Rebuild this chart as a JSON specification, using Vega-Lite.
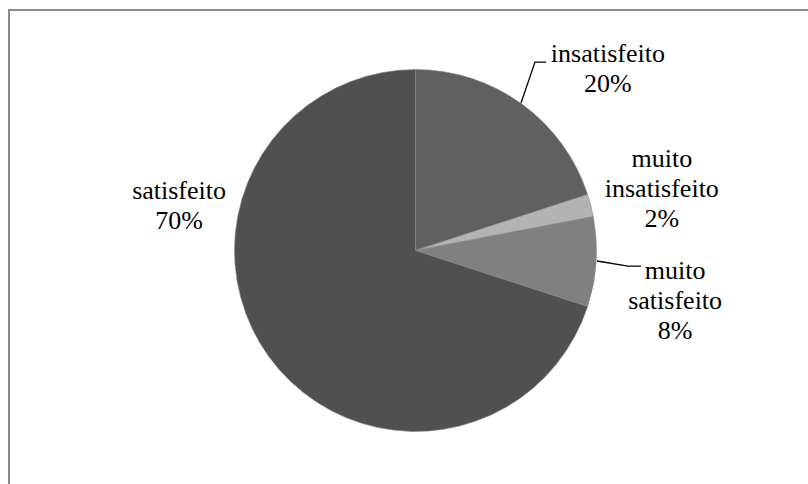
{
  "$schema": "https://vega.github.io/schema/vega-lite/v6.json",
  "width": 813,
  "height": 481,
  "autosize": {"type": "none"},
  "padding": {"left": 9, "top": 10, "right": 0, "bottom": 0},
  "background": "white",
  "config": {
    "view": {"stroke": "#8c8c8c", "strokeWidth": 2},
    "font": "Liberation Serif"
  },
  "datasets": {
    "fatias": [
      {"categoria": "insatisfeito", "valor": 20, "rotulo": "insatisfeito\n20%"},
      {"categoria": "muito insatisfeito", "valor": 2, "rotulo": "muito\ninsatisfeito\n2%"},
      {"categoria": "muito satisfeito", "valor": 8, "rotulo": "muito\nsatisfeito\n8%"},
      {"categoria": "satisfeito", "valor": 70, "rotulo": "satisfeito\n70%"}
    ],
    "lideres": [
      {"grupo": "insatisfeito", "ordem": 1, "px": 0.583, "py": 0.815},
      {"grupo": "insatisfeito", "ordem": 2, "px": 0.660, "py": 1.041},
      {"grupo": "insatisfeito", "ordem": 3, "px": 0.721, "py": 1.041},
      {"grupo": "muito satisfeito", "ordem": 1, "px": 1.003, "py": -0.058},
      {"grupo": "muito satisfeito", "ordem": 2, "px": 1.174, "py": -0.086},
      {"grupo": "muito satisfeito", "ordem": 3, "px": 1.246, "py": -0.086}
    ]
  },
  "layer": [
    {
      "data": {"name": "fatias"},
      "mark": {"type": "arc", "outerRadius": 181, "stroke": "#8a8a8a", "strokeWidth": 0.6},
      "encoding": {
        "theta": {"field": "valor", "type": "quantitative", "stack": true, "scale": {"domain": [0, 100]}},
        "order": {"field": "categoria", "type": "ordinal"},
        "color": {
          "field": "categoria", "type": "nominal", "legend": null,
          "scale": {
            "domain": ["insatisfeito", "muito insatisfeito", "muito satisfeito", "satisfeito"],
            "range": ["#606060", "#b3b3b3", "#808080", "#505050"]
          }
        }
      }
    },
    {
      "data": {"name": "lideres"},
      "mark": {"type": "line", "color": "black", "strokeWidth": 1.3},
      "encoding": {
        "x": {"field": "px", "type": "quantitative", "axis": null, "scale": {"domain": [-2.2459, 2.2459], "nice": false, "zero": false}},
        "y": {"field": "py", "type": "quantitative", "axis": null, "scale": {"domain": [-1.3287, 1.3287], "nice": false, "zero": false}},
        "detail": {"field": "grupo", "type": "nominal"},
        "order": {"field": "ordem", "type": "quantitative"}
      }
    },
    {
      "data": {"name": "fatias"},
      "mark": {"type": "text", "radius": 181, "dx": 86, "dy": -42, "font": "Liberation Serif", "fontSize": 26, "lineHeight": 30, "lineBreak": "\n", "color": "black", "align": "center", "baseline": "alphabetic"},
      "encoding": {
        "theta": {"field": "valor", "type": "quantitative", "stack": true},
        "order": {"field": "categoria", "type": "ordinal"},
        "text": {"condition": {"test": "datum.categoria === 'insatisfeito'", "field": "rotulo"}, "value": ""}
      }
    },
    {
      "data": {"name": "fatias"},
      "mark": {"type": "text", "radius": 181, "dx": 71, "dy": -38, "font": "Liberation Serif", "fontSize": 26, "lineHeight": 30, "lineBreak": "\n", "color": "black", "align": "center", "baseline": "alphabetic"},
      "encoding": {
        "theta": {"field": "valor", "type": "quantitative", "stack": true},
        "order": {"field": "categoria", "type": "ordinal"},
        "text": {"condition": {"test": "datum.categoria === 'muito insatisfeito'", "field": "rotulo"}, "value": ""}
      }
    },
    {
      "data": {"name": "fatias"},
      "mark": {"type": "text", "radius": 181, "dx": 79, "dy": 17, "font": "Liberation Serif", "fontSize": 26, "lineHeight": 30, "lineBreak": "\n", "color": "black", "align": "center", "baseline": "alphabetic"},
      "encoding": {
        "theta": {"field": "valor", "type": "quantitative", "stack": true},
        "order": {"field": "categoria", "type": "ordinal"},
        "text": {"condition": {"test": "datum.categoria === 'muito satisfeito'", "field": "rotulo"}, "value": ""}
      }
    },
    {
      "data": {"name": "fatias"},
      "mark": {"type": "text", "radius": 181, "dx": -90, "dy": -158, "font": "Liberation Serif", "fontSize": 26, "lineHeight": 30, "lineBreak": "\n", "color": "black", "align": "center", "baseline": "alphabetic"},
      "encoding": {
        "theta": {"field": "valor", "type": "quantitative", "stack": true},
        "order": {"field": "categoria", "type": "ordinal"},
        "text": {"condition": {"test": "datum.categoria === 'satisfeito'", "field": "rotulo"}, "value": ""}
      }
    }
  ]
}
